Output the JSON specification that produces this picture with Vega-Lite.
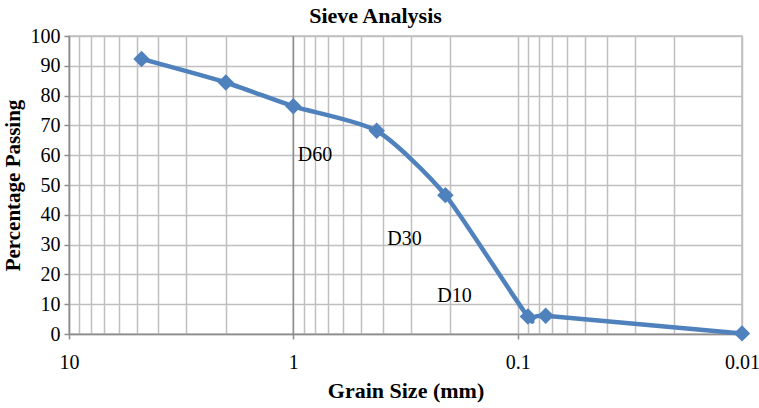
{
  "$schema": "https://vega.github.io/schema/vega-lite/v6.json",
  "autosize": "none",
  "width": 673,
  "height": 298,
  "padding": {"left": 69, "top": 36, "right": 17, "bottom": 74},
  "background": "white",
  "config": {
    "font": "Liberation Serif",
    "view": {"stroke": "#bfbfbf", "strokeWidth": 1.5}
  },
  "title": {
    "text": "Sieve Analysis",
    "font": "Liberation Serif",
    "fontSize": 22,
    "fontWeight": "bold",
    "color": "black",
    "anchor": "middle",
    "frame": "group",
    "dx": -30,
    "offset": -2
  },
  "datasets": {
    "sieve": [
      {"size": 4.75, "passing": 92.3},
      {"size": 2, "passing": 84.4},
      {"size": 1, "passing": 76.4},
      {"size": 0.425, "passing": 68.2},
      {"size": 0.21, "passing": 46.6},
      {"size": 0.09, "passing": 5.9},
      {"size": 0.075, "passing": 6.1},
      {"size": 0.01, "passing": 0.2}
    ],
    "labels": [
      {"size": 0.956, "passing": 60, "label": "D60"},
      {"size": 0.381, "passing": 31.8, "label": "D30"},
      {"size": 0.228, "passing": 12.9, "label": "D10"}
    ],
    "axisline": [
      {"size": 1, "passing": 0},
      {"size": 1, "passing": 100}
    ]
  },
  "encoding": {
    "x": {
      "field": "size",
      "type": "quantitative",
      "scale": {"type": "log", "domain": [10, 0.01], "nice": false},
      "axis": {
        "title": "Grain Size (mm)",
        "titleFont": "Liberation Serif",
        "titleFontSize": 22,
        "titleFontWeight": "bold",
        "titleColor": "black",
        "titlePadding": 8,
        "values": [10, 9, 8, 7, 6, 5, 4, 3, 2, 1, 0.9, 0.8, 0.7, 0.6, 0.5, 0.4, 0.3, 0.2, 0.1, 0.09, 0.08, 0.07, 0.06, 0.05, 0.04, 0.03, 0.02, 0.01],
        "labelExpr": "indexof([10, 1, 0.1, 0.01], datum.value) >= 0 ? datum.label : ''",
        "format": "~g",
        "labelFont": "Liberation Serif",
        "labelFontSize": 20,
        "labelColor": "black",
        "labelPadding": 13,
        "labelFlush": false,
        "labelOverlap": false,
        "grid": true,
        "gridColor": "#bfbfbf",
        "gridWidth": 1.5,
        "domainColor": "#8c8c8c",
        "domainWidth": 1.5,
        "tickColor": "#8c8c8c",
        "tickWidth": 1.5,
        "tickSize": 5,
        "tickOpacity": {"condition": {"test": "indexof([10, 1, 0.1, 0.01], datum.value) >= 0", "value": 1}, "value": 0}
      }
    },
    "y": {
      "field": "passing",
      "type": "quantitative",
      "scale": {"domain": [0, 100], "nice": false},
      "axis": {
        "title": "Percentage Passing",
        "titleFont": "Liberation Serif",
        "titleFontSize": 21,
        "titleFontWeight": "bold",
        "titleColor": "black",
        "titlePadding": 7,
        "values": [0, 10, 20, 30, 40, 50, 60, 70, 80, 90, 100],
        "labelFont": "Liberation Serif",
        "labelFontSize": 20,
        "labelColor": "black",
        "labelPadding": 4,
        "labelFlush": false,
        "labelOverlap": false,
        "grid": true,
        "gridColor": "#bfbfbf",
        "gridWidth": 1.5,
        "domainColor": "#8c8c8c",
        "domainWidth": 1.5,
        "tickColor": "#8c8c8c",
        "tickWidth": 1.5,
        "tickSize": 5
      }
    }
  },
  "layer": [
    {
      "data": {"name": "axisline"},
      "mark": {"type": "line", "color": "#8c8c8c", "strokeWidth": 1.5}
    },
    {
      "data": {"name": "sieve"},
      "mark": {"type": "line", "color": "#4f81bd", "strokeWidth": 4.5, "interpolate": "cardinal", "tension": 0.35}
    },
    {
      "data": {"name": "sieve"},
      "mark": {"type": "point", "shape": "diamond", "filled": true, "color": "#4f81bd", "size": 270, "opacity": 1}
    },
    {
      "data": {"name": "labels"},
      "mark": {"type": "text", "align": "left", "baseline": "middle", "font": "Liberation Serif", "fontSize": 20, "color": "black"},
      "encoding": {
        "text": {"field": "label"}
      }
    }
  ]
}
